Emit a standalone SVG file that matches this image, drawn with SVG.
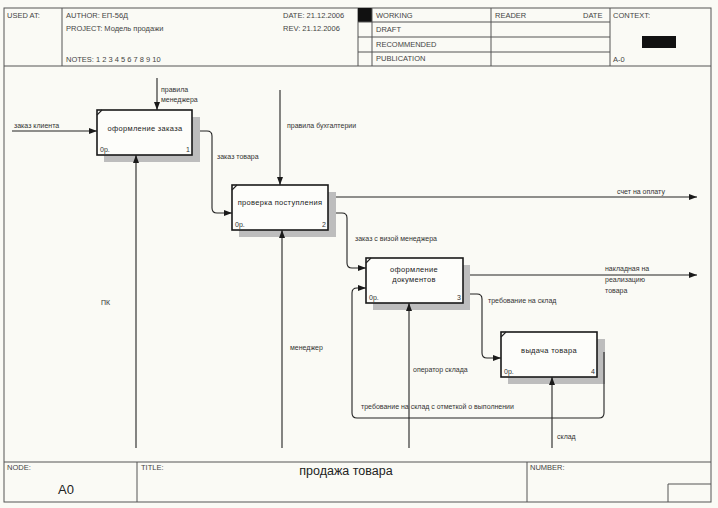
<svg xmlns="http://www.w3.org/2000/svg" width="718" height="508" viewBox="0 0 718 508">
<defs>
<marker id="ah" markerWidth="8" markerHeight="6" refX="8" refY="3" orient="auto" markerUnits="userSpaceOnUse">
<path d="M0,0 L8,3 L0,6 z" fill="#1a1a1a"/>
</marker>
<style>
.frame{fill:none;stroke:#555;stroke-width:1}
.hd{font-family:"Liberation Sans",Arial,sans-serif;font-size:7.5px;fill:#444}
.lbl{font-family:"Liberation Sans",Arial,sans-serif;font-size:7px;fill:#333}
.bt{font-family:"Liberation Sans",Arial,sans-serif;font-size:7.5px;fill:#222;text-anchor:middle;letter-spacing:0.3px}
.box{fill:#fdfdfa;stroke:#1a1a1a;stroke-width:1.6}
.sh{fill:#bdbdbd}
.arr{fill:none;stroke:#222;stroke-width:1.1;marker-end:url(#ah)}
.ln{fill:none;stroke:#222;stroke-width:1.1}
</style>
</defs>
<rect width="718" height="508" fill="#fafaf5"/>
<g id="frame">
<rect class="frame" x="4" y="8" width="707" height="494"/>
<line class="frame" x1="4" y1="66" x2="711" y2="66"/>
<line class="frame" x1="4" y1="462" x2="711" y2="462"/>
<line class="frame" x1="62" y1="8" x2="62" y2="66"/>
<line class="frame" x1="358" y1="8" x2="358" y2="66"/>
<rect x="358" y="8" width="14" height="14" fill="#111"/>
<line class="frame" x1="372" y1="8" x2="372" y2="66"/>
<line class="frame" x1="491" y1="8" x2="491" y2="66"/>
<line class="frame" x1="610" y1="8" x2="610" y2="66"/>
<line class="frame" x1="358" y1="22" x2="610" y2="22"/>
<line class="frame" x1="358" y1="37" x2="610" y2="37"/>
<line class="frame" x1="358" y1="52" x2="610" y2="52"/>
<rect x="642" y="36" width="34" height="12" fill="#111"/>
<text class="hd" x="7" y="18">USED AT:</text>
<text class="hd" x="66" y="18">AUTHOR:  ЕП-56Д</text>
<text class="hd" x="66" y="31">PROJECT:  Модель продажи</text>
<text class="hd" x="66" y="62">NOTES:  1  2  3  4  5  6  7  8  9  10</text>
<text class="hd" x="283" y="18">DATE:  21.12.2006</text>
<text class="hd" x="283" y="31">REV:    21.12.2006</text>
<text class="hd" x="376" y="18">WORKING</text>
<text class="hd" x="376" y="32">DRAFT</text>
<text class="hd" x="376" y="47">RECOMMENDED</text>
<text class="hd" x="376" y="61">PUBLICATION</text>
<text class="hd" x="495" y="18">READER</text>
<text class="hd" x="583" y="18">DATE</text>
<text class="hd" x="613" y="18">CONTEXT:</text>
<text class="hd" x="613" y="62">A-0</text>
<line class="frame" x1="137" y1="462" x2="137" y2="502"/>
<line class="frame" x1="527" y1="462" x2="527" y2="502"/>
<polyline class="frame" points="668,502 668,484 711,484"/>
<text class="hd" x="7" y="470">NODE:</text>
<text class="hd" x="141" y="470">TITLE:</text>
<text class="hd" x="530" y="470">NUMBER:</text>
<text x="58" y="494" font-family="'Liberation Sans',Arial,sans-serif" font-size="13" fill="#222">A0</text>
<text x="346" y="475" font-family="'Liberation Sans',Arial,sans-serif" font-size="12.5" fill="#222" text-anchor="middle">продажа товара</text>
</g>
<g id="node-1">
<rect class="sh" x="104" y="117" width="96" height="45"/>
<rect class="box" x="97" y="110" width="95" height="45"/>
<line class="ln" x1="97" y1="115" x2="102" y2="110"/>
<text class="bt" x="145" y="131">оформление заказа</text>
<text class="lbl" x="100" y="152">0р.</text>
<text class="lbl" x="186" y="152">1</text>
</g>
<g id="node-2">
<rect class="sh" x="239" y="192" width="97" height="45"/>
<rect class="box" x="232" y="185" width="96" height="45"/>
<line class="ln" x1="232" y1="190" x2="237" y2="185"/>
<text class="bt" x="280" y="205">проверка поступления</text>
<text class="lbl" x="235" y="227">0р.</text>
<text class="lbl" x="322" y="227">2</text>
</g>
<g id="node-3">
<rect class="sh" x="373" y="265" width="97" height="45"/>
<rect class="box" x="366" y="258" width="97" height="45"/>
<line class="ln" x1="366" y1="263" x2="371" y2="258"/>
<text class="bt" x="414" y="272">оформление</text>
<text class="bt" x="414" y="282">документов</text>
<text class="lbl" x="369" y="300">0р.</text>
<text class="lbl" x="457" y="300">3</text>
</g>
<g id="node-4">
<rect class="sh" x="508" y="339" width="97" height="45"/>
<rect class="box" x="501" y="332" width="96" height="45"/>
<line class="ln" x1="501" y1="337" x2="506" y2="332"/>
<text class="bt" x="549" y="353">выдача товара</text>
<text class="lbl" x="504" y="374">0р.</text>
<text class="lbl" x="591" y="374">4</text>
</g>
<g id="connectors">
<line class="arr" x1="12" y1="131" x2="97" y2="131"/>
<text class="lbl" x="14" y="128">заказ клиента</text>
<line class="arr" x1="157" y1="78" x2="157" y2="110"/>
<text class="lbl" x="161" y="92">правила</text>
<text class="lbl" x="161" y="102">менеджера</text>
<line class="arr" x1="136" y1="448" x2="136" y2="155"/>
<text class="lbl" x="101" y="305">ПК</text>
<path class="arr" d="M200,131 H207 Q212,131 212,136 V208 Q212,213 217,213 H232"/>
<text class="lbl" x="217" y="159">заказ товара</text>
<line class="arr" x1="280" y1="90" x2="280" y2="185"/>
<text class="lbl" x="287" y="128">правила бухгалтерии</text>
<line class="arr" x1="282" y1="448" x2="282" y2="230"/>
<text class="lbl" x="290" y="350">менеджер</text>
<line class="arr" x1="336" y1="197" x2="697" y2="197"/>
<text class="lbl" x="617" y="194">счет на оплату</text>
<path class="arr" d="M336,213 H342 Q347,213 347,218 V263 Q347,268 352,268 H366"/>
<text class="lbl" x="355" y="241">заказ с визой менеджера</text>
<line class="arr" x1="470" y1="275" x2="697" y2="275"/>
<text class="lbl" x="605" y="271">накладная на</text>
<text class="lbl" x="605" y="282">реализацию</text>
<text class="lbl" x="605" y="293">товара</text>
<path class="arr" d="M470,294 H477 Q482,294 482,299 V353 Q482,358 487,358 H501"/>
<text class="lbl" x="488" y="303">требование на склад</text>
<line class="arr" x1="409" y1="448" x2="409" y2="303"/>
<text class="lbl" x="413" y="372">оператор склада</text>
<line class="arr" x1="552" y1="448" x2="552" y2="377"/>
<text class="lbl" x="557" y="439">склад</text>
<path class="arr" d="M604,352 V413 Q604,418 599,418 H357 Q352,418 352,413 V293 Q352,288 357,288 H366"/>
<text class="lbl" x="361" y="409">требование на склад с отметкой о выполнении</text>
</g>
</svg>
